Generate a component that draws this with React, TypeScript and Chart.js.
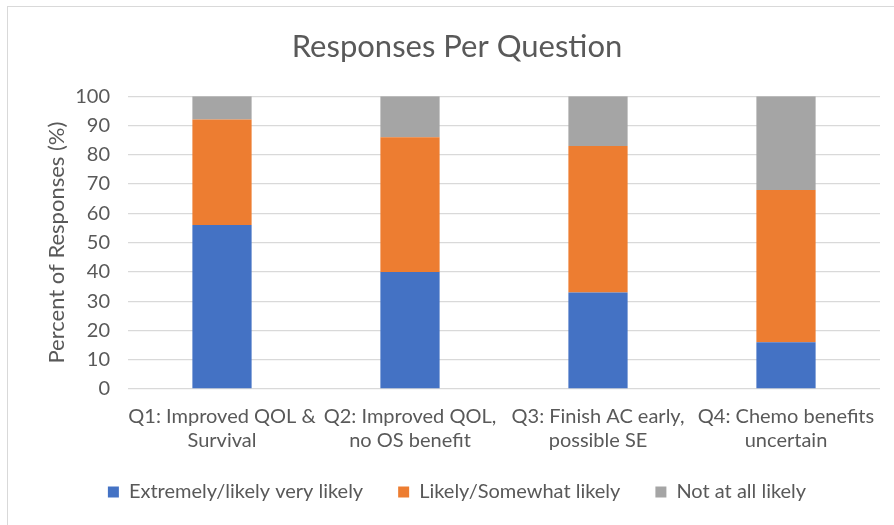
import React, { useEffect, useRef } from "react";
import { Chart, registerables } from "chart.js";

Chart.register(...registerables);

const categories: string[][] = [
  ["Q1: Improved QOL &", "Survival"],
  ["Q2: Improved QOL,", "no OS benefit"],
  ["Q3: Finish AC early,", "possible SE"],
  ["Q4: Chemo benefits", "uncertain"],
];
const seriesNames = ["Extremely/likely very likely", "Likely/Somewhat likely", "Not at all likely"];
const extremely = [56, 40, 33, 16];
const likely = [36, 46, 50, 52];
const notAtAll = [8, 14, 17, 32];
const colors = ["#4472C4", "#ED7D31", "#A5A5A5"];
const yTicks = [0, 10, 20, 30, 40, 50, 60, 70, 80, 90, 100];

const FONT = "Lato, 'Open Sans', sans-serif";
const TEXT = "#595959";

export default function App() {
  const ref = useRef<HTMLCanvasElement | null>(null);
  useEffect(() => {
    if (!ref.current) return;
    const chart: any = new Chart(ref.current, {
      type: "bar",
      data: {
        labels: categories,
        datasets: [extremely, likely, notAtAll].map((d, i) => ({
          label: seriesNames[i],
          data: d,
          backgroundColor: colors[i],
          borderWidth: 0,
          barPercentage: 0.315,
          categoryPercentage: 1,
        })),
      },
      options: {
        animation: false,
        responsive: false,
        maintainAspectRatio: false,
        layout: { padding: { top: 6, left: 34, right: 14, bottom: 12 } },
        plugins: {
          title: {
            display: true,
            text: "Responses Per Question",
            color: TEXT,
            font: { family: FONT, size: 31, weight: "normal" },
            padding: { top: 22, bottom: 31 },
          },
          legend: {
            position: "bottom",
            labels: {
              color: TEXT,
              font: { family: FONT, size: 20 },
              boxWidth: 11,
              boxHeight: 11,
              padding: 35,
            },
          },
          tooltip: { enabled: false },
        },
        scales: {
          x: {
            stacked: true,
            grid: { display: false, drawTicks: false },
            border: { display: false },
            ticks: { color: TEXT, font: { family: FONT, size: 20 }, padding: 16, maxRotation: 0, autoSkip: false },
            afterFit: (s: any) => { s.height = 84; },
          },
          y: {
            stacked: true,
            min: 0,
            max: 100,
            afterBuildTicks: (s: any) => { s.ticks = yTicks.map((v) => ({ value: v })); },
            grid: { color: "#d9d9d9", lineWidth: 1.3, drawTicks: false },
            border: { display: false },
            ticks: { color: TEXT, font: { family: FONT, size: 20 }, padding: 18 },
            title: {
              display: true,
              text: "Percent of Responses (%)",
              color: TEXT,
              font: { family: FONT, size: 22 },
              padding: { top: 10, bottom: 0 },
            },
            afterFit: (s: any) => { s.width = 94; },
          },
        },
      },
    } as any);
    // Compact the legend's vertical footprint while keeping wide horizontal spacing.
    const legend = chart.legend;
    if (legend) {
      const origFit = legend.fit.bind(legend);
      legend.fit = () => { origFit(); legend.height = 40; };
      const origDraw = legend._draw.bind(legend);
      legend._draw = () => {
        const ctx = chart.ctx;
        ctx.save();
        ctx.translate(0, -26);
        origDraw();
        ctx.restore();
      };
      chart.update();
    }
    return () => chart.destroy();
  }, []);
  return (
    <div style={{ position: "absolute", left: 0, top: 0, width: 894, height: 525, background: "#fff", overflow: "hidden" }}>
      <div style={{ position: "absolute", left: 7, top: 6, width: 900, height: 540, border: "1.5px solid #d9d9d9" }} />
      <canvas ref={ref} width={894} height={525} style={{ position: "absolute", left: 0, top: 0 }} />
    </div>
  );
}
